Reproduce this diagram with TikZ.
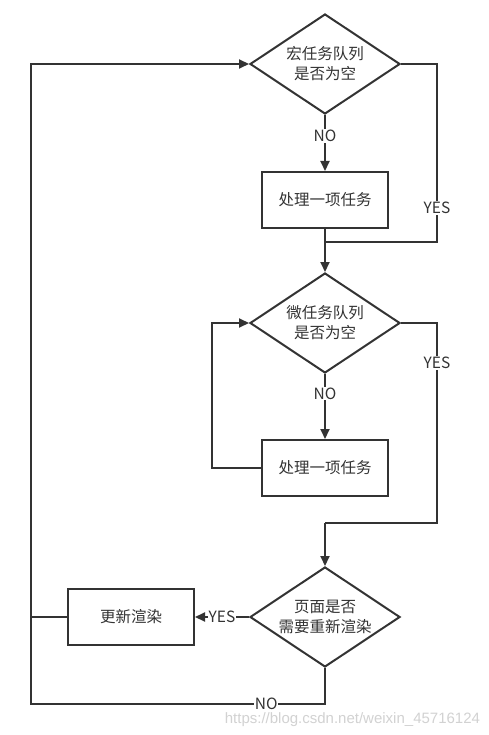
\documentclass[tikz,border=0pt]{standalone}
\usepackage{fontspec}
\setmainfont{Noto Sans CJK SC}
\newfontfamily\wmfont{Liberation Sans}
\usetikzlibrary{shapes.geometric,arrows.meta}
\definecolor{ink}{HTML}{333333}
\definecolor{wm}{HTML}{D2D2D2}
\begin{document}
\begin{tikzpicture}[x=1pt,y=-1pt,
  line width=2pt,
  every node/.style={font=\fontsize{15.5}{20}\selectfont, text=ink},
  dia/.style={draw=ink, shape=diamond, aspect=1.5, inner sep=-10pt, minimum width=150pt, minimum height=100pt, align=center, line join=miter},
  box/.style={draw=ink, rectangle, minimum width=126pt, minimum height=56pt, inner sep=0pt},
  conn/.style={draw=ink, line width=2pt},
  arr/.style={conn, -{Triangle[length=10pt,width=9pt]}},
  lbl/.style={fill=white, inner sep=1pt}]
\useasboundingbox (0,0) rectangle (489,735);
\fill[white] (0,0) rectangle (489,735);

\node[dia] (d1) at (325,64) {宏任务队列\\是否为空};
\node[box] (b1) at (325,200) {处理一项任务};
\node[dia] (d2) at (325,323) {微任务队列\\是否为空};
\node[box] (b2) at (325,468) {处理一项任务};
\node[dia] (d3) at (325,617) {页面是否\\需要重新渲染};
\node[box] (b3) at (131,617) {更新渲染};

\coordinate (r1) at (437,242);
\coordinate (j1) at (325,242);
\coordinate (l2) at (212,323);
\coordinate (r2) at (437,523);
\coordinate (j2) at (325,523);
\coordinate (m3) at (31,617);
\coordinate (c1) at (31,704);
\coordinate (c2) at (31,64);

\draw[arr] (d1.south) -- node[lbl, pos=0.38]{NO} (b1.north);
\draw[conn] (d1.east) -| node[lbl, pos=0.905]{YES} (r1) -- (j1);
\draw[conn] (b1.south) -- (j1);
\draw[arr] (j1) -- (d2.north);

\draw[arr] (d2.south) -- node[lbl, pos=0.3]{NO} (b2.north);
\draw[arr] (b2.west) -| (l2) -- (d2.west);
\draw[conn] (d2.east) -| node[lbl, pos=0.6]{YES} (r2) -- (j2);
\draw[arr] (j2) -- (d3.north);

\draw[arr] (d3.west) -- node[lbl]{YES} (b3.east);
\draw[conn] (b3.west) -- (m3);
\draw[arr] (d3.south) |- node[lbl, pos=0.6, inner sep=0.5pt]{NO} (c1) -- (c2) -- (d1.west);

\node[anchor=east, text=wm, font=\wmfont\fontsize{15}{18}\selectfont, inner sep=0pt] (wmk) at (481,720) {https://blog.csdn.net/weixin\_45716124};
\end{tikzpicture}
\end{document}
